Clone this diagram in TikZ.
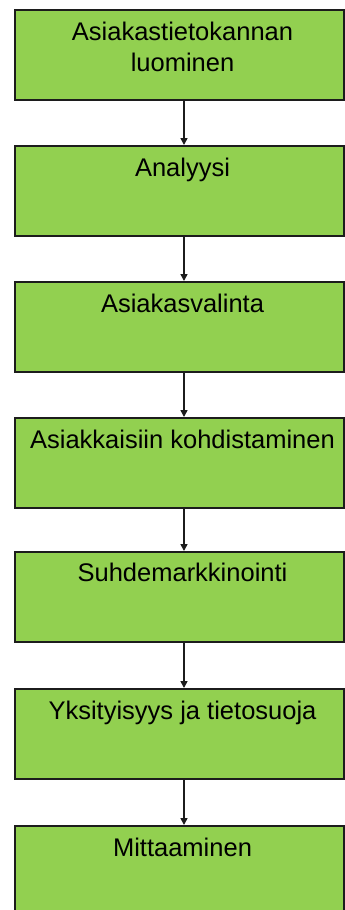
\documentclass[tikz,border=0pt]{standalone}
\usepackage{fontspec}
\setmainfont{Liberation Sans}
\usetikzlibrary{arrows.meta,positioning}
\definecolor{stepGreen}{HTML}{92D050}
\definecolor{stepEdge}{HTML}{1C1C1C}

\begin{document}
\begin{tikzpicture}[x=1pt,y=-1pt,>={Triangle[length=7pt,width=7pt]},
    box/.style={draw=stepEdge,fill=stepGreen,line width=2pt,anchor=north west,
      minimum width=329pt,minimum height=90pt,inner sep=0pt},
    tag/.style={anchor=base,inner sep=0pt,align=center,
      font=\fontsize{25.5}{31}\selectfont},
    link/.style={->,line width=1.6pt,stepEdge}]
        \useasboundingbox (0,0) rectangle (345,910);
        \clip (0,0) rectangle (345,910);
        % boxes
        \foreach \n/\y in {1/9,2/145,3/281,4/417,5/551,6/688,7/825}
          \node[box] (b\n) at (14,\y) {};
        % labels (base = last line)
        \node[tag] (t1) at (182.5,71) {Asiakastietokannan\\luominen};
        \node[tag] (t2) at (182.5,176) {Analyysi};
        \node[tag] (t3) at (182.5,312) {Asiakasvalinta};
        \node[tag] (t4) at (182.5,448) {Asiakkaisiin kohdistaminen};
        \node[tag] (t5) at (182.5,581) {Suhdemarkkinointi};
        \node[tag] (t6) at (182.5,719) {Yksityisyys ja tietosuoja};
        \node[tag] (t7) at (182.5,856) {Mittaaminen};
        % arrows
        \foreach \a/\b in {1/2,2/3,3/4,4/5,5/6,6/7}
          \draw[link] ([xshift=4.5pt]b\a.south) -- ([xshift=4.5pt]b\b.north);
\end{tikzpicture}
\end{document}
